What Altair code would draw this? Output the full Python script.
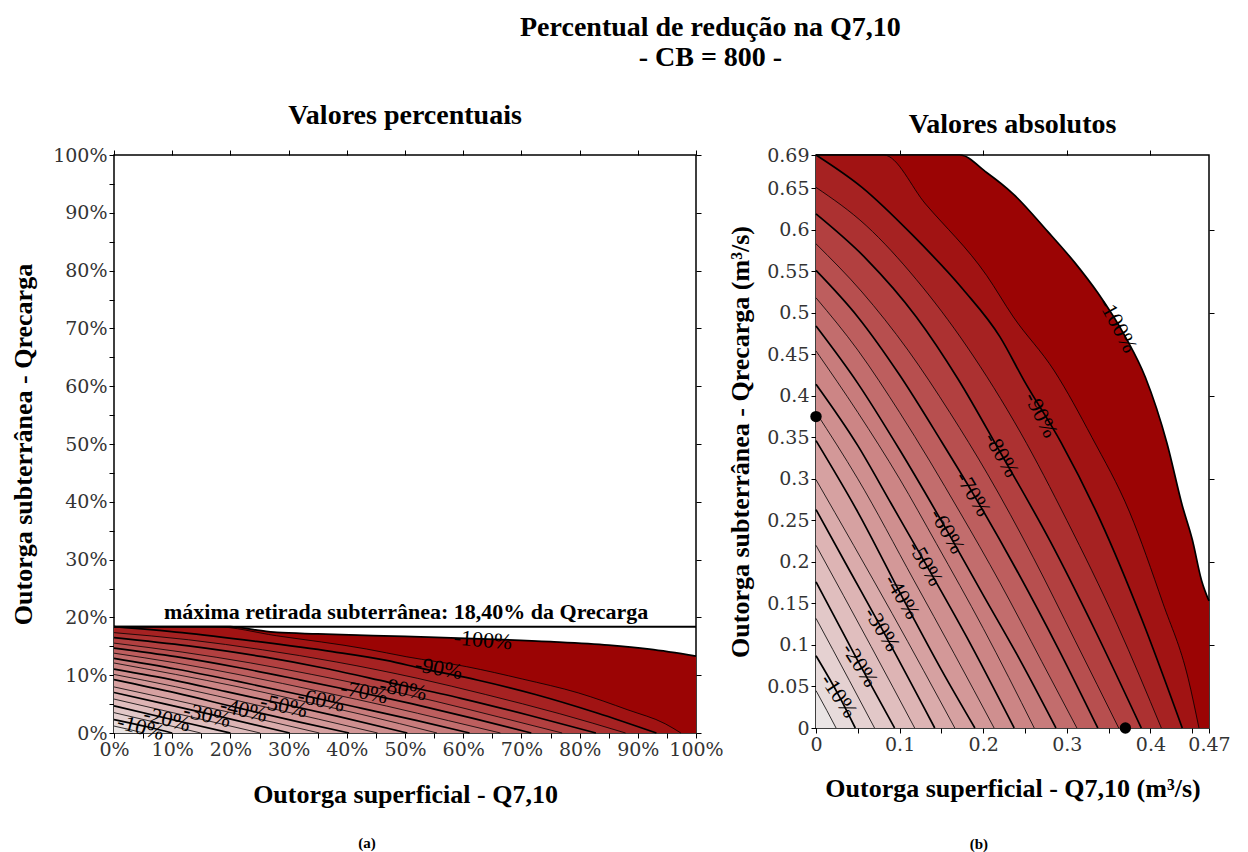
import altair as alt
import pandas as pd

# ---------------- data ----------------
LEVELS = [5, 10, 15, 20, 25, 30, 35, 40, 45, 50, 55, 60, 65, 70, 75, 80, 85, 90, 95, 100]
LABEL_TEXT = ["-10%", "-20%", "-30%", "-40%", "-50%", "-60%", "-70%", "-80%", "-90%", "-100%"]

# panel (b): contour lines, (Q7,10 m3/s, Qrecarga m3/s)
b05 = [(0, 0.045), (0.013, 0.021), (0.024, 0)]
b10 = [(0, 0.087), (0.0275, 0.0387), (0.047, 0)]
b15 = [(0, 0.132), (0.040, 0.057), (0.070, 0)]
b20 = [(0, 0.176), (0.0526, 0.076), (0.094, 0)]
b25 = [(0, 0.220), (0.066, 0.098), (0.118, 0)]
b30 = [(0, 0.263), (0.04, 0.19), (0.079, 0.119), (0.142, 0)]
b35 = [(0, 0.299), (0.045, 0.22), (0.091, 0.138), (0.166, 0)]
b40 = [(0, 0.346), (0.05, 0.26), (0.103, 0.158), (0.15, 0.07), (0.19, 0)]
b45 = [(0, 0.380), (0.05, 0.30), (0.117, 0.178), (0.165, 0.09), (0.213, 0)]
b50 = [(0, 0.414), (0.05, 0.34), (0.09, 0.27), (0.131, 0.198), (0.18, 0.11), (0.237, 0)]
b55 = [(0, 0.454), (0.05, 0.38), (0.10, 0.30), (0.144, 0.222), (0.20, 0.12), (0.261, 0)]
b60 = [(0, 0.484), (0.05, 0.415), (0.10, 0.335), (0.157, 0.237), (0.20, 0.16), (0.245, 0.08), (0.287, 0)]
b65 = [(0, 0.518), (0.05, 0.455), (0.10, 0.38), (0.172, 0.26), (0.22, 0.175), (0.27, 0.08), (0.312, 0)]
b70 = [(0, 0.551), (0.05, 0.495), (0.10, 0.425), (0.15, 0.345), (0.188, 0.282), (0.24, 0.19), (0.29, 0.095), (0.337, 0)]
b75 = [(0, 0.583), (0.055, 0.525), (0.11, 0.455), (0.16, 0.38), (0.205, 0.306), (0.26, 0.205), (0.31, 0.105), (0.362, 0)]
b80 = [(0, 0.619), (0.06, 0.565), (0.12, 0.495), (0.17, 0.42), (0.222, 0.329), (0.28, 0.225), (0.335, 0.115), (0.389, 0)]
b85 = [(0, 0.651), (0.06, 0.605), (0.12, 0.54), (0.18, 0.46), (0.245, 0.355), (0.30, 0.25), (0.36, 0.125), (0.413, 0)]
b90 = [(0, 0.69), (0.055, 0.651), (0.115, 0.594), (0.176, 0.528), (0.22, 0.471), (0.249, 0.418),
       (0.293, 0.344), (0.34, 0.25), (0.39, 0.13), (0.438, 0)]
b95 = [(0, 0.69), (0.081, 0.69), (0.131, 0.631), (0.204, 0.545), (0.236, 0.495), (0.285, 0.43),
       (0.33, 0.35), (0.375, 0.26), (0.415, 0.15), (0.445, 0.06), (0.458, 0)]
b100 = [(0, 0.69), (0.172, 0.69), (0.204, 0.669), (0.236, 0.643), (0.277, 0.598), (0.309, 0.561),
        (0.337, 0.524), (0.37, 0.471), (0.394, 0.422), (0.42, 0.342), (0.438, 0.268), (0.45, 0.227),
        (0.461, 0.178), (0.47, 0.153)]
B_CONTOURS = [b05, b10, b15, b20, b25, b30, b35, b40, b45, b50,
              b55, b60, b65, b70, b75, b80, b85, b90, b95, b100]

# panel (a): contour lines, (% of Q7,10, % of Qrecarga)
a05 = [(0, 1.2), (2.8, 0.56), (5.1, 0)]
a10 = [(0, 2.32), (5.85, 1.03), (10.0, 0)]
a15 = [(0, 3.52), (8.5, 1.52), (14.9, 0)]
a20 = [(0, 4.69), (11.2, 2.03), (20.0, 0)]
a25 = [(0, 5.87), (14.0, 2.61), (25.1, 0)]
a30 = [(0, 7.01), (8.5, 5.07), (16.8, 3.17), (30.2, 0)]
a35 = [(0, 7.97), (9.6, 5.87), (19.4, 3.68), (35.3, 0)]
a40 = [(0, 9.23), (10.6, 6.93), (21.9, 4.21), (31.9, 1.87), (40.4, 0)]
a45 = [(0, 10.13), (10.6, 8.0), (24.9, 4.75), (35.1, 2.4), (45.3, 0)]
a50 = [(0, 11.04), (10.6, 9.07), (19.1, 7.2), (27.9, 5.28), (38.3, 2.93), (50.4, 0)]
a55 = [(0, 12.11), (10.6, 10.13), (21.3, 8.0), (30.6, 5.92), (42.6, 3.2), (55.5, 0)]
a60 = [(0, 12.91), (10.6, 11.07), (21.3, 8.93), (33.4, 6.32), (42.6, 4.27), (52.1, 2.13), (61.1, 0)]
a65 = [(0, 13.81), (10.6, 12.13), (21.3, 10.13), (36.6, 6.93), (46.8, 4.67), (57.5, 2.13), (66.4, 0)]
a70 = [(0, 14.69), (10.6, 13.2), (21.3, 11.33), (31.9, 9.2), (40.0, 7.52), (51.1, 5.07), (61.7, 2.53), (71.7, 0)]
a75 = [(0, 15.55), (11.7, 14.0), (23.4, 12.13), (34.0, 10.13), (43.6, 8.16), (55.3, 5.47), (66.0, 2.8), (77.0, 0)]
a80 = [(0, 16.51), (12.8, 15.07), (25.5, 13.2), (36.2, 11.2), (47.2, 8.77), (59.6, 6.0), (71.3, 3.07), (82.8, 0)]
a85 = [(0, 17.36), (12.8, 16.13), (25.5, 14.4), (38.3, 12.27), (52.1, 9.47), (63.8, 6.67), (76.6, 3.33), (87.9, 0)]
a90 = [(0, 18.4), (11.7, 17.36), (24.5, 15.84), (37.5, 14.08), (46.8, 12.56), (53.0, 11.15),
       (62.4, 9.17), (72.4, 6.67), (83.0, 3.47), (93.2, 0)]
a95 = [(0, 18.4), (17.2, 18.4), (27.9, 16.83), (43.4, 14.53), (50.2, 13.2), (60.6, 11.47),
       (70.2, 9.33), (79.8, 6.93), (88.3, 4.0), (94.7, 1.6), (97.4, 0)]
a100 = [(0, 18.4), (20, 18.4), (24, 17.9), (28, 17.4), (35, 17.15), (50, 16.7), (63, 16.3),
        (75, 15.8), (85, 15.2), (92, 14.5), (100, 13.3)]
A_CONTOURS = [a05, a10, a15, a20, a25, a30, a35, a40, a45, a50,
              a55, a60, a65, a70, a75, a80, a85, a90, a95, a100]

# contour label positions
A_LAB_X = [4.6, 9.1, 16.0, 22.3, 29.2, 35.6, 43.0, 49.7, 55.8, 63.4]
A_LAB_Y = [1.0, 2.4, 3.1, 4.0, 4.7, 5.7, 7.1, 7.6, 11.2, 16.1]
B_LAB_X = [0.0275, 0.0526, 0.079, 0.103, 0.131, 0.157, 0.188, 0.222, 0.269, 0.361]
B_LAB_Y = [0.0387, 0.076, 0.119, 0.158, 0.198, 0.237, 0.282, 0.329, 0.377, 0.485]

# marked points in (b)
B_PT_X = [0.0, 0.37]
B_PT_Y = [0.375, 0.0]

MAX_RETIRADA = 18.4
MAX_TEXT = "máxima retirada subterrânea: 18,40% da Qrecarga"
MAX_TEXT_X = 50.2

# ---------------- styles ----------------
A_ANGLES = [15, 14, 13, 13, 12, 12, 11, 11, 10, 5]
B_ANGLES = [56, 57, 58, 59, 60, 60, 59, 60, 63, 62]
SERIF = "Liberation Serif"
TICKFONT = "DejaVu Serif"
COLOR_SCALE = alt.Scale(domain=[5, 30, 60, 85, 100],
                        range=["#eae5e5", "#ddb4b4", "#c87c7c", "#ac3131", "#9b0404"],
                        interpolate="rgb")


def contour_frame(contours):
    rows = []
    for lev, pts in zip(LEVELS, contours):
        for x, y in pts:
            rows.append({"level": lev, "x": x, "y": y})
    return pd.DataFrame(rows)


def panel(contours, lab_x, lab_y, angles, xdom, ydom, x_axis, y_axis,
          top_vals, right_vals, width, height, title, title_dy, title_offset, extra):
    df = contour_frame(contours)
    xs = alt.Scale(domain=xdom, nice=False, zero=False)
    ys = alt.Scale(domain=ydom, nice=False, zero=False)
    layers = []
    for i, lev in enumerate(reversed(LEVELS)):
        layers.append(
            alt.Chart(df).transform_filter(alt.datum.level == lev)
            .mark_area(interpolate="monotone")
            .encode(
                x=alt.X("x:Q", scale=xs, axis=x_axis if i == 0 else None),
                y=alt.Y("y:Q", scale=ys, stack=None, axis=y_axis if i == 0 else None),
                color=alt.Color("level:Q", scale=COLOR_SCALE, legend=None),
            )
        )
    minor = (alt.Chart(df).transform_filter("datum.level % 10 == 5")
             .mark_line(interpolate="monotone", color="black", strokeWidth=0.8)
             .encode(x=alt.X("x:Q", scale=xs, axis=None),
                     y=alt.Y("y:Q", scale=ys, axis=None), detail="level:N"))
    major = (alt.Chart(df).transform_filter("datum.level % 10 == 0")
             .mark_line(interpolate="monotone", color="black", strokeWidth=1.7)
             .encode(x=alt.X("x:Q", scale=xs, axis=None),
                     y=alt.Y("y:Q", scale=ys, axis=None), detail="level:N"))
    lab_df = pd.DataFrame({"x": lab_x, "y": lab_y, "text": LABEL_TEXT, "angle": angles})
    labels = (alt.Chart(lab_df)
              .mark_text(font=SERIF, fontSize=22, color="black")
              .encode(x=alt.X("x:Q", scale=xs, axis=None),
                      y=alt.Y("y:Q", scale=ys, axis=None),
                      text="text:N", angle=alt.Angle("angle:Q", scale=None)))
    mirror = (alt.Chart(df).mark_point(opacity=0)
              .encode(x=alt.X("x:Q", scale=xs,
                              axis=alt.Axis(orient="top", values=top_vals, labels=False,
                                            title=None, domain=False, grid=False, tickSize=5)),
                      y=alt.Y("y:Q", scale=ys,
                              axis=alt.Axis(orient="right", values=right_vals, labels=False,
                                            title=None, domain=False, grid=False, tickSize=5))))
    extra_layers = [e(xs, ys) for e in extra]
    return (alt.layer(*layers, minor, major, *extra_layers, labels, mirror)
            .resolve_axis(x="independent", y="independent")
            .properties(width=width, height=height,
                        title=alt.Title(title, font=SERIF, fontSize=28, fontWeight="bold",
                                        color="black", anchor="middle", dy=title_dy,
                                        offset=title_offset)))


# ---------- panel (a) ----------
def max_rule(xs, ys):
    d = pd.DataFrame({"y": [MAX_RETIRADA]})
    return alt.Chart(d).mark_rule(color="black", strokeWidth=2).encode(
        y=alt.Y("y:Q", scale=ys, axis=None))


def max_text(xs, ys):
    d = pd.DataFrame({"x": [MAX_TEXT_X], "y": [MAX_RETIRADA], "t": [MAX_TEXT]})
    return alt.Chart(d).mark_text(font=SERIF, fontSize=22, fontWeight="bold", color="black",
                                  baseline="bottom", dy=-3).encode(
        x=alt.X("x:Q", scale=xs, axis=None), y=alt.Y("y:Q", scale=ys, axis=None), text="t:N")


pct_vals = list(range(0, 101, 5))
pct_label = "datum.value % 10 == 0 ? datum.value + '%' : ''"
a_x_axis = alt.Axis(values=pct_vals, labelExpr=pct_label, title="Outorga superficial - Q7,10",
                    titlePadding=22, labelOverlap=False, labelFlush=False, grid=False,
                    domain=False, tickSize=5)
a_y_axis = alt.Axis(values=pct_vals, labelExpr=pct_label, title="Outorga subterrânea - Qrecarga",
                    titlePadding=16, labelOverlap=False, labelFlush=False, grid=False,
                    domain=False, tickSize=5)

panel_a = panel(A_CONTOURS, A_LAB_X, A_LAB_Y, A_ANGLES, [0, 100], [0, 100], a_x_axis, a_y_axis,
                list(range(0, 101, 10)), list(range(0, 101, 10)), 582, 578,
                "Valores percentuais", 0, 16, [max_rule, max_text])


# ---------- panel (b) ----------
def b_points(xs, ys):
    d = pd.DataFrame({"x": B_PT_X, "y": B_PT_Y})
    return alt.Chart(d).mark_circle(size=130, color="black", opacity=1).encode(
        x=alt.X("x:Q", scale=xs, axis=None), y=alt.Y("y:Q", scale=ys, axis=None))


b_x_vals = [round(0.05 * k, 2) for k in range(10)] + [0.47]
b_y_vals = [round(0.05 * k, 2) for k in range(14)] + [0.69]
b_x_axis = alt.Axis(values=b_x_vals,
                    labelExpr="(round(datum.value*100) % 10 == 5) ? '' : format(datum.value, '.2~f')",
                    title="Outorga superficial - Q7,10 (m³/s)", titlePadding=21,
                    labelOverlap=False, labelFlush=False, grid=False, domain=False, tickSize=5)
b_y_axis = alt.Axis(values=b_y_vals, format=".2~f", title="Outorga subterrânea - Qrecarga (m³/s)",
                    titlePadding=13, labelOverlap=False, labelFlush=False, grid=False,
                    domain=False, tickSize=5)

panel_b = panel(B_CONTOURS, B_LAB_X, B_LAB_Y, B_ANGLES, [0, 0.47], [0, 0.69], b_x_axis, b_y_axis,
                [0.1, 0.2, 0.3, 0.4], [0.1, 0.2, 0.3, 0.4, 0.5, 0.6], 393, 573,
                "Valores absolutos", 9, 16, [b_points])

cap_a = alt.vconcat(panel_a, title=alt.Title("(a)", orient="bottom", font=SERIF, fontSize=15,
                                              fontWeight="bold", color="black", anchor="middle",
                                              offset=28))
cap_b = alt.vconcat(panel_b, title=alt.Title("(b)", orient="bottom", font=SERIF, fontSize=15,
                                              fontWeight="bold", color="black", anchor="middle",
                                              offset=35))

chart = (alt.hconcat(cap_a, cap_b, spacing=2,
                     title=alt.Title(["Percentual de redução na Q7,10", "- CB = 800 -"],
                                     font=SERIF, fontSize=28, fontWeight="bold", color="black",
                                     anchor="middle", lineHeight=30, offset=29, dx=90))
         .resolve_scale(x="independent", y="independent")
         .properties(padding={"left": 1, "top": 6, "right": 0, "bottom": 0})
         .configure_view(stroke="black", strokeWidth=1.5)
         .configure_axis(labelFont=TICKFONT, labelFontSize=19, labelColor="#333",
                         tickColor="black", tickWidth=1, titleFont=SERIF, titleFontSize=26,
                         titleFontWeight="bold", titleColor="black"))

chart.save("out.html", embed_options={"renderer": "svg", "actions": False})
